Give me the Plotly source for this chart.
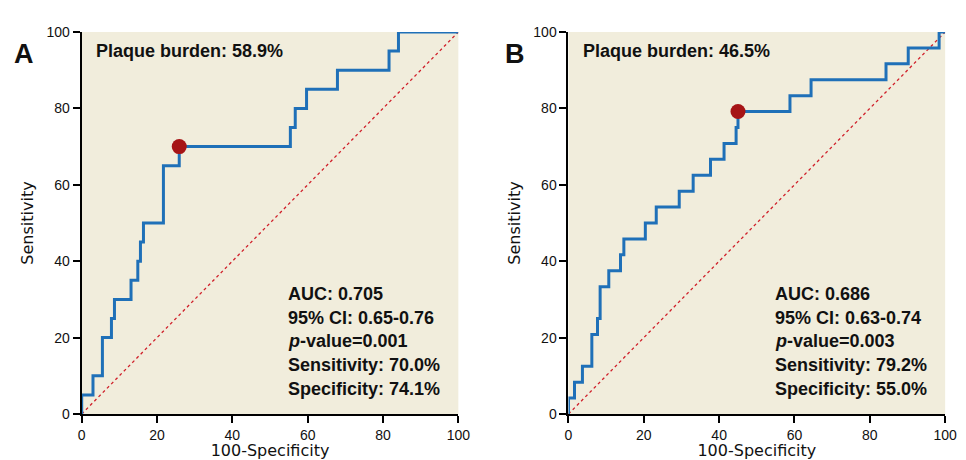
import plotly.graph_objects as go

# ---------- data ----------
# Panel A ROC (100-Specificity, Sensitivity) step corners
a_fpr = [0, 0, 3.0, 3.0, 5.5, 5.5, 7.9, 7.9, 8.7, 8.7, 13.1, 13.1, 14.9, 14.9, 15.6, 15.6,
         16.4, 16.4, 21.7, 21.7, 25.9, 25.9, 55.4, 55.4, 56.7, 56.7, 59.7, 59.7, 67.9, 67.9,
         81.6, 81.6, 84.1, 84.1, 100]
a_sens = [0, 5, 5, 10, 10, 20, 20, 25, 25, 30, 30, 35, 35, 40, 40, 45,
          45, 50, 50, 65, 65, 70, 70, 75, 75, 80, 80, 85, 85, 90,
          90, 95, 95, 100, 100]
a_cut = (25.9, 70.0)

# Panel B ROC
b_fpr = [0, 0, 1.6, 1.6, 3.7, 3.7, 6.2, 6.2, 7.7, 7.7, 8.4, 8.4, 10.7, 10.7, 13.8, 13.8,
         14.7, 14.7, 20.4, 20.4, 23.3, 23.3, 29.4, 29.4, 33.1, 33.1, 37.7, 37.7, 41.3, 41.3,
         44.5, 44.5, 45.0, 45.0, 58.8, 58.8, 64.4, 64.4, 84.3, 84.3, 90.2, 90.2, 98.4, 98.4, 100]
b_sens = [0, 4.17, 4.17, 8.33, 8.33, 12.5, 12.5, 20.83, 20.83, 25, 25, 33.33, 33.33, 37.5, 37.5, 41.67,
          41.67, 45.83, 45.83, 50, 50, 54.17, 54.17, 58.33, 58.33, 62.5, 62.5, 66.67, 66.67, 70.83,
          70.83, 75, 75, 79.17, 79.17, 83.33, 83.33, 87.5, 87.5, 91.67, 91.67, 95.83, 95.83, 100, 100]
b_cut = (45.0, 79.17)

diag = [0, 100]
tick_vals = [0, 20, 40, 60, 80, 100]
tick_text = ["0", "20", "40", "60", "80", "100"]

a_title = "Plaque burden: 58.9%"
b_title = "Plaque burden: 46.5%"
a_stats = ["AUC: 0.705", "95% CI: 0.65-0.76", "<i>p</i>-value=0.001",
           "Sensitivity: 70.0%", "Specificity: 74.1%"]
b_stats = ["AUC: 0.686", "95% CI: 0.63-0.74", "<i>p</i>-value=0.003",
           "Sensitivity: 79.2%", "Specificity: 55.0%"]

# ---------- styles ----------
NARROW = "Liberation Sans, Arial, sans-serif"
TITLEF = "DejaVu Sans, sans-serif"
BG = "#F1EDDC"
BLUE = "#1F70B8"
RED = "#A61416"

fig = go.Figure()

for i, (fx, fy, cut) in enumerate([(a_fpr, a_sens, a_cut), (b_fpr, b_sens, b_cut)]):
    xa = "x" if i == 0 else "x2"
    ya = "y" if i == 0 else "y2"
    fig.add_trace(go.Scatter(x=diag, y=diag, mode="lines", xaxis=xa, yaxis=ya,
                             line=dict(color="#D0202A", width=1.3, dash="dot"),
                             hoverinfo="skip", showlegend=False))
    fig.add_trace(go.Scatter(x=fx, y=fy, mode="lines", xaxis=xa, yaxis=ya,
                             line=dict(color=BLUE, width=3), cliponaxis=False,
                             showlegend=False))
    fig.add_trace(go.Scatter(x=[cut[0]], y=[cut[1]], mode="markers", xaxis=xa, yaxis=ya,
                             marker=dict(color=RED, size=15), cliponaxis=False,
                             showlegend=False))

axis_common = dict(range=[0, 100], tickmode="array", tickvals=tick_vals, ticktext=tick_text,
                   showgrid=False, zeroline=False, showline=True, linecolor="black",
                   linewidth=2, ticks="outside", ticklen=7, tickwidth=1.5, tickcolor="black",
                   tickfont=dict(family=NARROW, size=14, color="#111"), fixedrange=True)

xt = dict(text="100-Specificity", standoff=2, font=dict(family=TITLEF, size=16, color="#111"))
yt = dict(text="Sensitivity", standoff=9, font=dict(family=TITLEF, size=16, color="#111"))

fig.update_layout(
    width=966, height=460,
    margin=dict(l=0, r=0, t=32, b=46),
    paper_bgcolor="white", plot_bgcolor=BG,
    xaxis=dict(domain=[79 / 966, 462 / 966], anchor="y", title=xt, **axis_common),
    yaxis=dict(domain=[0, 1], anchor="x", title=yt, **axis_common),
    xaxis2=dict(domain=[574 / 966, 957 / 966], anchor="y2", title=xt, **axis_common),
    yaxis2=dict(domain=[0, 1], anchor="x2", title=yt, **axis_common),
)

ann = []
stat_y = [31.4, 25.2, 19.0, 12.8, 6.5]
for i, (ttl, stats) in enumerate([(a_title, a_stats), (b_title, b_stats)]):
    xr = "x" if i == 0 else "x2"
    yr = "y" if i == 0 else "y2"
    ann.append(dict(text="<b>" + ttl + "</b>", x=3.3, y=95.0, xref=xr, yref=yr,
                    xanchor="left", yanchor="middle", showarrow=False,
                    font=dict(family=NARROW, size=18, color="#111")))
    for s, yy in zip(stats, stat_y):
        ann.append(dict(text="<b>" + s + "</b>", x=54.2, y=yy, xref=xr, yref=yr,
                        xanchor="left", yanchor="middle", showarrow=False,
                        font=dict(family=NARROW, size=18, color="#111")))

ann.append(dict(text="<b>A</b>", x=20 / 966, y=1 - 26 / 460, xref="paper", yref="paper",
                xanchor="center", yanchor="middle", showarrow=False,
                font=dict(family=NARROW, size=27, color="#111")))
ann.append(dict(text="<b>B</b>", x=520 / 966, y=1 - 26 / 460, xref="paper", yref="paper",
                xanchor="center", yanchor="middle", showarrow=False,
                font=dict(family=NARROW, size=27, color="#111")))
fig.update_layout(annotations=ann)

fig.write_html("out.html")
